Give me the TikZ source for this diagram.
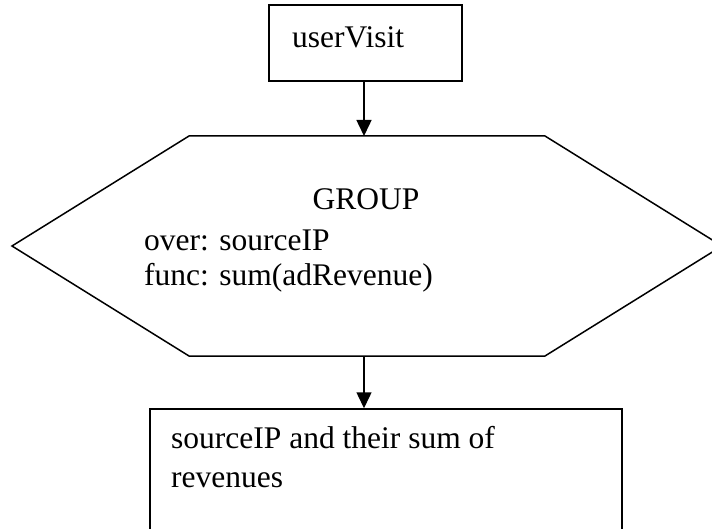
\documentclass[tikz,border=0pt]{standalone}
\usepackage{fontspec}
\setmainfont{Liberation Serif}
\usetikzlibrary{arrows.meta}
\tikzset{
  shapeline/.style={draw=black, line width=1.5pt},
  boxnode/.style={shapeline, rectangle, inner sep=0pt},
  lbl/.style={inner sep=0pt, anchor=base west, font=\fontsize{31.5}{36}\selectfont},
  arr/.style={line width=1.5pt, -{Triangle[length=16pt,width=15pt]}}
}
\begin{document}
\begin{tikzpicture}[x=1pt,y=-1pt]
\useasboundingbox (0,0) rectangle (712,529);
\clip (0,0) rectangle (712,529);
% top box
\node[boxnode, minimum width=193pt, minimum height=76pt] (top) at (365.5,43) {};
\node[lbl] (toplbl) at (292,48) {userVisit};
% hexagon
\coordinate (h1) at (189,136);
\coordinate (h2) at (545,136);
\coordinate (h3) at (722,246);
\coordinate (h4) at (545,356);
\coordinate (h5) at (189,356);
\coordinate (h6) at (12,246);
\draw[shapeline, line join=miter] (h1) -- (h2) -- (h3) -- (h4) -- (h5) -- (h6) -- cycle;
\coordinate (hexN) at (364,136);
\coordinate (hexS) at (364,356);
\node[lbl, anchor=base] (group) at (366,210) {GROUP};
\node[lbl] (over) at (144,251) {over: sourceIP};
\node[lbl] (func) at (144,286) {func: sum(adRevenue)};
% bottom box
\node[boxnode, minimum width=472pt, minimum height=160pt] (bot) at (386,489) {};
\node[lbl] (bot1) at (171,448) {sourceIP and their sum of};
\node[lbl] (bot2) at (171,487) {revenues};
% connectors
\draw[arr] (top.south -| hexN) -- (hexN);
\draw[arr] (hexS) -- (bot.north -| hexS);
\end{tikzpicture}
\end{document}
